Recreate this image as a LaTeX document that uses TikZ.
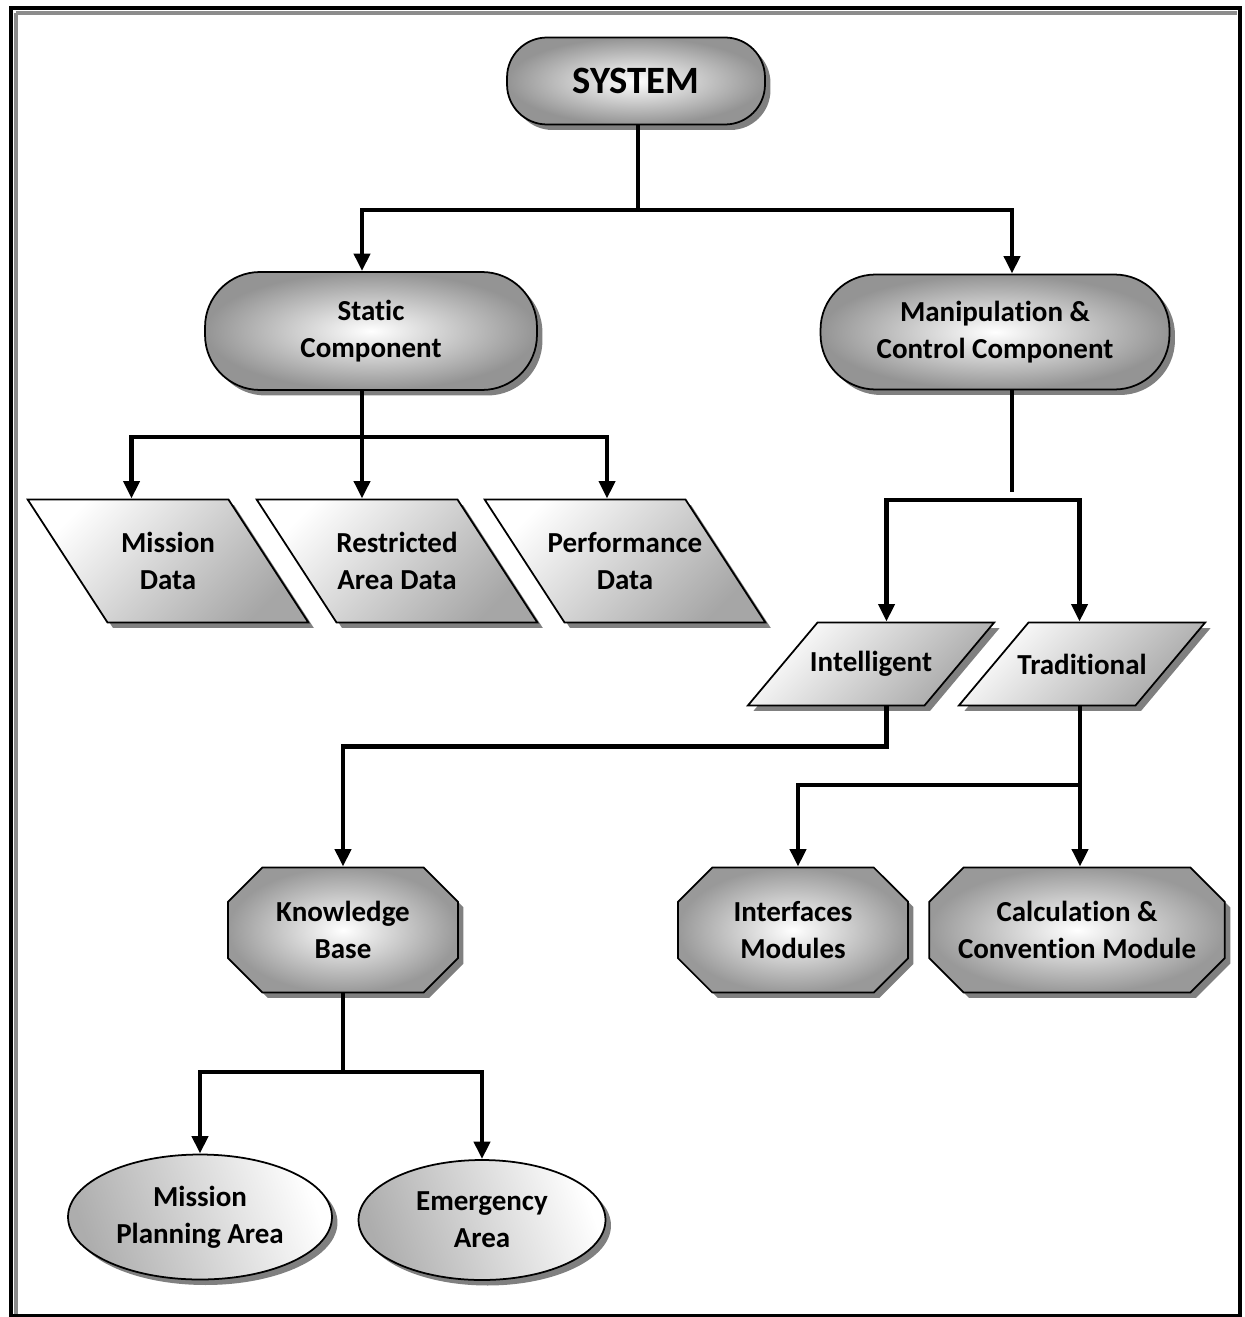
\documentclass[tikz,border=0pt]{standalone}
\usepackage{fontspec}
\setmainfont{Carlito}[Ligatures=CommonOff]
\usepackage{tikz}
\usetikzlibrary{arrows.meta,positioning,shapes.geometric,shapes.misc,shadows,calc}

\begin{document}
\begin{tikzpicture}[
  x=0.02cm, y=-0.02cm,
  txt/.style={align=center, inner sep=0pt, font=\fontsize{16.5}{21}\selectfont\bfseries},
  base/.style={txt, draw, line width=1pt,
               drop shadow={shadow xshift=0.11cm, shadow yshift=-0.11cm, fill=black!50, opacity=1}},
  pill/.style={base, rectangle, inner color=white, outer color=black!42},
  datab/.style={base, trapezium, trapezium left angle=123, trapezium right angle=57,
                text width=2.42cm, text height=2.46cm, text depth=0pt,
                top color=white, bottom color=black!35, shading angle=45},
  kindb/.style={base, trapezium, trapezium left angle=50, trapezium right angle=130,
                text width=2.14cm, text height=1.66cm, text depth=0pt,
                top color=white, bottom color=black!35, shading angle=45},
  octb/.style={base, chamfered rectangle, chamfered rectangle xsep=0.7cm,
               minimum height=2.5cm, inner color=white, outer color=black!40},
  areab/.style={base, ellipse, left color=black!32, right color=white, shading angle=110},
  line/.style={line width=2.8pt},
  arr/.style={line, -{Triangle[length=10pt, width=9pt]}}
]
\useasboundingbox (0,0) rectangle (1244,1317);

% frame
\draw[black!45, line width=2.8pt] (16,13) -- (1237,13);
\draw[black!45, line width=2.8pt] (16,13) -- (16,1314);
\draw[line width=2.8pt] (11,8) rectangle (1240,1316);

% top levels
\node[pill, rounded corners=0.8cm, minimum width=5.16cm, minimum height=1.74cm,
      font=\fontsize{22}{26}\selectfont\bfseries] (sys) at (636,81) {SYSTEM};
\node[pill, rounded corners=1.1cm, minimum width=6.64cm, minimum height=2.36cm] (stat) at (371,331) {Static\\Component};
\node[pill, rounded corners=1.1cm, minimum width=6.98cm, minimum height=2.30cm] (manip) at (995,332) {Manipulation \&\\Control Component};

% data
\node[datab, label={[txt]center:Mission\\Data}] (mdata) at (168,561) {};
\node[datab, label={[txt]center:Restricted\\Area Data}] (rdata) at (397,561) {};
\node[datab, label={[txt]center:Performance\\Data}] (pdata) at (625,561) {};

% kinds
\node[kindb, label={[txt]center:Intelligent}] (intel) at (871,664) {};
\node[kindb, label={[txt]center:Traditional}] (trad) at (1082,664) {};

% modules
\node[octb, minimum width=4.6cm] (kb) at (343,930) {Knowledge\\Base};
\node[octb, minimum width=4.6cm] (iface) at (793,930) {Interfaces\\Modules};
\node[octb, minimum width=5.8cm] (calc) at (1077,930) {Calculation \&\\Convention Module};

% areas
\node[areab, minimum width=5.28cm, minimum height=2.5cm] (mpa) at (200,1217) {Mission\\Planning Area};
\node[areab, minimum width=4.94cm, minimum height=2.4cm] (ea) at (482,1220) {Emergency\\Area};

\coordinate (topj) at (638,210);
\coordinate (stj) at (362,437);
\coordinate (mnend) at (1012,492);
\coordinate (mnj) at (1012,500);
\coordinate (trj) at (1080,785);
\coordinate (kbj) at (343,1072);

\draw[line] (sys.south -| topj) -- (topj);
\draw[arr] (topj) -| ([xshift=-0.18cm]stat.north);
\draw[arr] (topj) -| ([xshift=0.34cm]manip.north);

\draw[line] (stat.south -| stj) -- (stj);
\draw[arr] (stj) -| ([xshift=-0.73cm]mdata.north);
\draw[arr] (stj) -- (stj |- rdata.north);
\draw[arr] (stj) -| ([xshift=-0.36cm]pdata.north);

\draw[line] (manip.south -| mnend) -- (mnend);
\draw[arr] (mnj) -| ([xshift=0.31cm]intel.north);
\draw[arr] (mnj) -| ([xshift=-0.05cm]trad.north);

\draw[arr] ([xshift=0.31cm]intel.south) -- ++(0,-0.8cm) -| (kb.north);
\draw[line] (trad.south -| trj) -- (trj);
\draw[arr] (trj) -| ([xshift=0.1cm]iface.north);
\draw[arr] (trj) -- (trj |- calc.north);

\draw[line] (kb.south) -- (kbj);
\draw[arr] (kbj) -| (mpa.north);
\draw[arr] (kbj) -| (ea.north);
\end{tikzpicture}
\end{document}
